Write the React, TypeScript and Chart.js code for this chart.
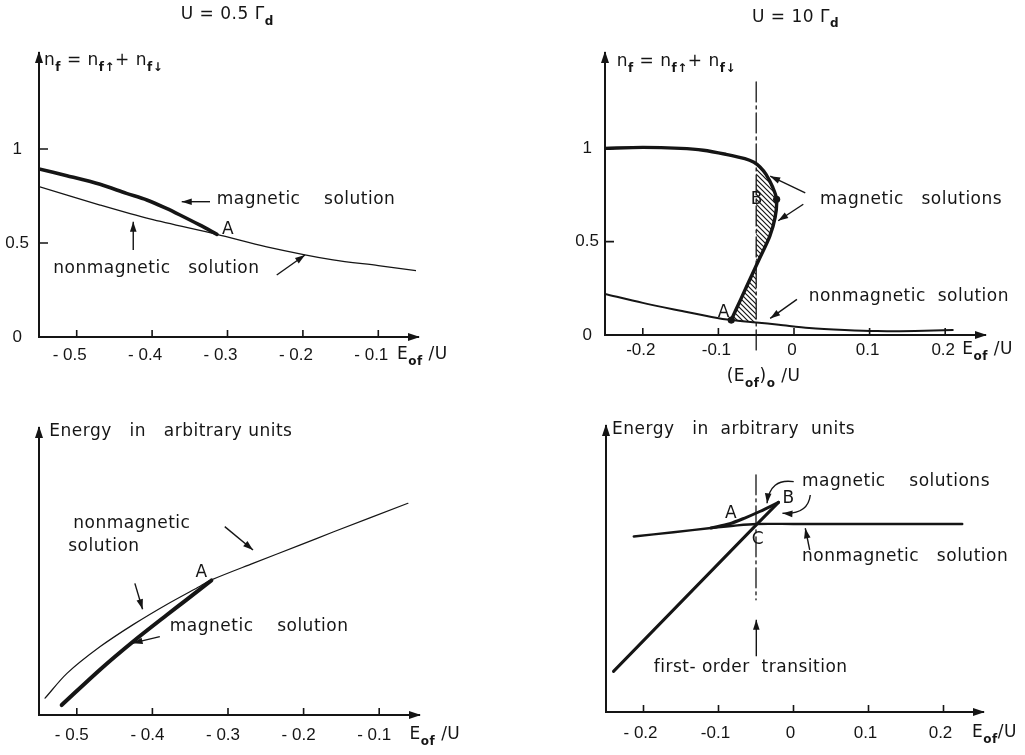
import { useEffect, useRef } from 'react';
import { Chart, registerables } from 'chart.js';

Chart.register(...registerables);

type Pt = [number, number];
type Seg = { t: string; sub?: boolean };
type Label = { at: Pt; segs: Seg[]; center?: boolean };
type Arrow = { from: Pt; to: Pt; via?: Pt };

const INK = '#151515';
const TEXT_FONT = '"DejaVu Sans", "Noto Sans", sans-serif';
const TICK_FONT = '"Liberation Sans", Arial, sans-serif';

// ---------- Panel 1 : U = 0.5 Γd, occupation ----------
const P1_X_TICKS = [-0.5, -0.4, -0.3, -0.2, -0.1];
const P1_X_LABELS = ['- 0.5', '- 0.4', '- 0.3', '- 0.2', '- 0.1'];
const P1_Y_TICKS = [0, 0.5, 1];
const P1_Y_LABELS = ['0', '0.5', '1'];
const P1_MAGNETIC: Pt[] = [
  [-0.55, 0.894], [-0.513, 0.858], [-0.469, 0.812], [-0.434, 0.764], [-0.407, 0.729],
  [-0.381, 0.684], [-0.363, 0.649], [-0.337, 0.596], [-0.314, 0.546],
];
const P1_NONMAG: Pt[] = [
  [-0.55, 0.8], [-0.469, 0.702], [-0.403, 0.628], [-0.314, 0.546], [-0.248, 0.48],
  [-0.16, 0.41], [-0.1, 0.38], [-0.05, 0.353],
];

// ---------- Panel 2 : U = 10 Γd, occupation ----------
const P2_X_TICKS = [-0.2, -0.1, 0, 0.1, 0.2];
const P2_X_LABELS = ['-0.2', '-0.1', '0', '0.1', '0.2'];
const P2_Y_TICKS = [0, 0.5, 1];
const P2_Y_LABELS = ['0', '0.5', '1'];
const P2_MAGNETIC: Pt[] = [
  [-0.25, 1.0], [-0.2, 1.005], [-0.15, 1.0], [-0.12, 0.99], [-0.09, 0.968], [-0.065, 0.945],
  [-0.053, 0.925], [-0.045, 0.9], [-0.037, 0.86], [-0.028, 0.79], [-0.023, 0.727],
  [-0.025, 0.63], [-0.032, 0.53], [-0.045, 0.415], [-0.0575, 0.305], [-0.07, 0.195], [-0.083, 0.08],
];
const P2_NONMAG: Pt[] = [
  [-0.25, 0.22], [-0.2, 0.172], [-0.15, 0.13], [-0.109, 0.097], [-0.083, 0.08], [-0.05, 0.067],
  [-0.02, 0.055], [0.02, 0.038], [0.067, 0.027], [0.11, 0.021], [0.16, 0.022], [0.21, 0.027],
];
const P2_HATCH_UPPER: Pt[] = [
  [-0.05, 0.915], [-0.045, 0.9], [-0.037, 0.86], [-0.028, 0.79], [-0.023, 0.727],
  [-0.025, 0.63], [-0.032, 0.53], [-0.045, 0.415], [-0.05, 0.372], [-0.05, 0.915],
];
const P2_HATCH_LOWER: Pt[] = [
  [-0.05, 0.372], [-0.0575, 0.305], [-0.07, 0.195], [-0.083, 0.08], [-0.05, 0.067], [-0.05, 0.372],
];
const P2_POINTS: Pt[] = [[-0.083, 0.08], [-0.023, 0.727]];
const P2_TRANSITION: Pt[] = [[-0.05, 1.356], [-0.05, -0.09]];

// ---------- Panel 3 : U = 0.5 Γd, energy ----------
const P3_X_TICKS = [-0.5, -0.4, -0.3, -0.2, -0.1];
const P3_X_LABELS = ['- 0.5', '- 0.4', '- 0.3', '- 0.2', '- 0.1'];
const P3_NONMAG: Pt[] = [
  [-0.542, 0.059], [-0.513, 0.146], [-0.469, 0.24], [-0.425, 0.318], [-0.381, 0.388],
  [-0.337, 0.452], [-0.322, 0.474], [-0.267, 0.532], [-0.205, 0.596], [-0.161, 0.642], [-0.062, 0.743],
];
const P3_MAGNETIC: Pt[] = [
  [-0.52, 0.035], [-0.469, 0.16], [-0.425, 0.259], [-0.381, 0.351], [-0.355, 0.404], [-0.322, 0.472],
];

// ---------- Panel 4 : U = 10 Γd, energy ----------
const P4_X_TICKS = [-0.2, -0.1, 0, 0.1, 0.2];
const P4_X_LABELS = ['- 0.2', '-0.1', '0', '0.1', '0.2'];
const P4_NONMAG: Pt[] = [
  [-0.213, 0.618], [-0.16, 0.633], [-0.11, 0.648], [-0.08, 0.656], [-0.05, 0.662], [0.0, 0.662], [0.225, 0.662],
];
const P4_MAG_LINE: Pt[] = [[-0.24, 0.143], [-0.05, 0.658], [-0.02, 0.738]];
const P4_MAG_CURVE: Pt[] = [[-0.11, 0.648], [-0.085, 0.663], [-0.065, 0.683], [-0.045, 0.706], [-0.02, 0.738]];
const P4_TRANSITION: Pt[] = [[-0.05, 0.835], [-0.05, 0.395]];

// ---------- annotation texts ----------
const EOF_U: Seg[] = [{ t: 'E' }, { t: 'of', sub: true }, { t: ' /U' }];
const NF_LABEL: Seg[] = [
  { t: 'n' }, { t: 'f', sub: true }, { t: ' = n' }, { t: 'f\u2191', sub: true }, { t: '+ n' }, { t: 'f\u2193', sub: true },
];

const P1_TEXTS: Label[] = [
  { at: [-0.362, 1.713], segs: [{ t: 'U = 0.5 \u0393' }, { t: 'd', sub: true }] },
  { at: [-0.5434, 1.468], segs: NF_LABEL },
  { at: [-0.3143, 0.729], segs: [{ t: 'magnetic    solution' }] },
  { at: [-0.2993, 0.574], segs: [{ t: 'A' }], center: true },
  { at: [-0.531, 0.365], segs: [{ t: 'nonmagnetic   solution' }] },
  { at: [-0.0752, -0.0957], segs: EOF_U },
];
const P1_ARROWS: Arrow[] = [
  { from: [-0.3232, 0.7197], to: [-0.3607, 0.7197] },
  { from: [-0.425, 0.463], to: [-0.425, 0.613] },
  { from: [-0.2347, 0.33], to: [-0.1972, 0.436] },
];

const P2_TEXTS: Label[] = [
  { at: [-0.0557, 1.702], segs: [{ t: 'U = 10 \u0393' }, { t: 'd', sub: true }] },
  { at: [-0.2345, 1.463], segs: NF_LABEL },
  { at: [0.0344, 0.723], segs: [{ t: 'magnetic   solutions' }] },
  { at: [-0.0491, 0.723], segs: [{ t: 'B' }], center: true },
  { at: [-0.0929, 0.122], segs: [{ t: 'A' }], center: true },
  { at: [0.0194, 0.204], segs: [{ t: 'nonmagnetic  solution' }] },
  { at: [0.2225, -0.08], segs: EOF_U },
  { at: [-0.089, -0.222], segs: [{ t: '(E' }, { t: 'of', sub: true }, { t: ')' }, { t: 'o', sub: true }, { t: ' /U' }] },
];
const P2_ARROWS: Arrow[] = [
  { from: [0.0149, 0.762], to: [-0.0315, 0.851] },
  { from: [0.0123, 0.7005], to: [-0.0209, 0.612] },
  { from: [0.0039, 0.191], to: [-0.0315, 0.089] },
];

const P3_TEXTS: Label[] = [
  { at: [-0.5364, 0.994], segs: [{ t: 'Energy   in   arbitrary units' }] },
  { at: [-0.5047, 0.673], segs: [{ t: 'nonmagnetic' }] },
  { at: [-0.5113, 0.59], segs: [{ t: 'solution' }] },
  { at: [-0.335, 0.5], segs: [{ t: 'A' }], center: true },
  { at: [-0.377, 0.31], segs: [{ t: 'magnetic    solution' }] },
  { at: [-0.0599, -0.07], segs: EOF_U },
];
const P3_ARROWS: Arrow[] = [
  { from: [-0.3043, 0.661], to: [-0.2669, 0.579] },
  { from: [-0.4232, 0.462], to: [-0.413, 0.371] },
  { from: [-0.3902, 0.275], to: [-0.4262, 0.252] },
];

const P4_TEXTS: Label[] = [
  { at: [-0.242, 0.995], segs: [{ t: 'Energy   in  arbitrary  units' }] },
  { at: [0.0113, 0.811], segs: [{ t: 'magnetic    solutions' }] },
  { at: [-0.0064, 0.75], segs: [{ t: 'B' }], center: true },
  { at: [-0.0833, 0.7], segs: [{ t: 'A' }], center: true },
  { at: [-0.0473, 0.606], segs: [{ t: 'C' }], center: true },
  { at: [0.0113, 0.547], segs: [{ t: 'nonmagnetic   solution' }] },
  { at: [-0.1864, 0.155], segs: [{ t: 'first- order  transition' }] },
  { at: [0.238, -0.073], segs: [{ t: 'E' }, { t: 'of', sub: true }, { t: '/U' }] },
];
const P4_ARROWS: Arrow[] = [
  { from: [0.0216, 0.571], to: [0.0157, 0.647] },
  { from: [0.0003, 0.811], via: [-0.0313, 0.824], to: [-0.0353, 0.735] },
  { from: [0.0224, 0.764], via: [0.0193, 0.694], to: [-0.0147, 0.7] },
  { from: [-0.0496, 0.196], to: [-0.0496, 0.325] },
];

// ---------- panel layout ----------
type Line = { data: Pt[]; width?: number; dash?: number[]; tension?: number; hatch?: boolean; dots?: boolean; noClip?: boolean };
type Panel = {
  box: { left: number; top: number; w: number; h: number };
  area: { L: number; R: number; T: number; B: number };
  xRange: Pt; yRange: Pt;
  xTicks: number[]; xLabels: string[]; xPad: number; xShift: number;
  yTicks?: number[]; yLabels?: string[]; yPad?: number;
  lines: Line[]; texts: Label[]; arrows: Arrow[];
};

const DASH_DOT = [20, 4, 3, 4];

const PANELS: Panel[] = [
  {
    box: { left: 0, top: 0, w: 512, h: 395 }, area: { L: 39, R: 416, T: 55, B: 337 },
    xRange: [-0.55, -0.05], yRange: [0, 1.5],
    xTicks: P1_X_TICKS, xLabels: P1_X_LABELS, xPad: 8, xShift: -7,
    yTicks: P1_Y_TICKS, yLabels: P1_Y_LABELS, yPad: 10,
    lines: [
      { data: P1_MAGNETIC, width: 3.6, tension: 0.3 },
      { data: P1_NONMAG, width: 1.3, tension: 0.3 },
    ],
    texts: P1_TEXTS, arrows: P1_ARROWS,
  },
  {
    box: { left: 512, top: 0, w: 513, h: 395 }, area: { L: 93, R: 471, T: 55, B: 335 },
    xRange: [-0.25, 0.25], yRange: [0, 1.5],
    xTicks: P2_X_TICKS, xLabels: P2_X_LABELS, xPad: 5, xShift: -2,
    yTicks: P2_Y_TICKS, yLabels: P2_Y_LABELS, yPad: 6,
    lines: [
      { data: P2_POINTS, dots: true },
      { data: P2_MAGNETIC, width: 3.4, tension: 0.3 },
      { data: P2_NONMAG, width: 2, tension: 0.3 },
      { data: P2_TRANSITION, width: 1.3, dash: DASH_DOT, noClip: true },
      { data: P2_HATCH_UPPER, hatch: true },
      { data: P2_HATCH_LOWER, hatch: true },
    ],
    texts: P2_TEXTS, arrows: P2_ARROWS,
  },
  {
    box: { left: 0, top: 395, w: 512, h: 360 }, area: { L: 39, R: 417, T: 35, B: 320 },
    xRange: [-0.55, -0.05], yRange: [0, 1],
    xTicks: P3_X_TICKS, xLabels: P3_X_LABELS, xPad: 10, xShift: -5,
    lines: [
      { data: P3_MAGNETIC, width: 4, tension: 0.3 },
      { data: P3_NONMAG, width: 1.2, tension: 0.3 },
    ],
    texts: P3_TEXTS, arrows: P3_ARROWS,
  },
  {
    box: { left: 512, top: 395, w: 513, h: 360 }, area: { L: 94, R: 469, T: 33, B: 317 },
    xRange: [-0.25, 0.25], yRange: [0, 1],
    xTicks: P4_X_TICKS, xLabels: P4_X_LABELS, xPad: 11, xShift: -3,
    lines: [
      { data: P4_MAG_LINE, width: 3, tension: 0 },
      { data: P4_MAG_CURVE, width: 3, tension: 0.3 },
      { data: P4_NONMAG, width: 2.4, tension: 0.3 },
      { data: P4_TRANSITION, width: 1.3, dash: DASH_DOT },
    ],
    texts: P4_TEXTS, arrows: P4_ARROWS,
  },
];

// ---------- drawing helpers ----------
function segFont(s: Seg) {
  return s.sub ? `bold 12px ${TEXT_FONT}` : `17px ${TEXT_FONT}`;
}

function drawRich(ctx: CanvasRenderingContext2D, segs: Seg[], x: number, y: number, center?: boolean) {
  (ctx as any).letterSpacing = '0.5px';
  let w = 0;
  for (const s of segs) { ctx.font = segFont(s); w += ctx.measureText(s.t).width; }
  let cx = center ? x - w / 2 : x;
  ctx.textAlign = 'left';
  ctx.textBaseline = 'middle';
  for (const s of segs) {
    ctx.font = segFont(s);
    ctx.fillText(s.t, cx, s.sub ? y + 7 : y);
    cx += ctx.measureText(s.t).width;
  }
  (ctx as any).letterSpacing = '0px';
}

function arrowHead(ctx: CanvasRenderingContext2D, tip: Pt, from: Pt, len = 10, half = 3.3) {
  const a = Math.atan2(tip[1] - from[1], tip[0] - from[0]);
  const c = Math.cos(a), s = Math.sin(a);
  ctx.beginPath();
  ctx.moveTo(tip[0], tip[1]);
  ctx.lineTo(tip[0] - len * c + half * s, tip[1] - len * s - half * c);
  ctx.lineTo(tip[0] - len * c - half * s, tip[1] - len * s + half * c);
  ctx.closePath();
  ctx.fill();
}

function makePlugin(p: Panel, id: number) {
  return {
    id: 'figureDecor' + id,
    afterDraw(chart: any) {
      const ctx: CanvasRenderingContext2D = chart.ctx;
      const xs = chart.scales.x;
      const ys = chart.scales.y;
      const a = chart.chartArea;
      const px = (pt: Pt): Pt => [xs.getPixelForValue(pt[0]), ys.getPixelForValue(pt[1])];
      ctx.save();
      ctx.strokeStyle = INK;
      ctx.fillStyle = INK;
      ctx.lineCap = 'butt';
      // inward tick marks
      ctx.lineWidth = 1.6;
      ctx.beginPath();
      for (const v of p.xTicks) {
        const x = xs.getPixelForValue(v);
        ctx.moveTo(x, a.bottom);
        ctx.lineTo(x, a.bottom - 7);
      }
      if (p.yTicks) {
        for (const v of p.yTicks) {
          const y = ys.getPixelForValue(v);
          ctx.moveTo(a.left, y);
          ctx.lineTo(a.left + 9, y);
        }
      }
      ctx.stroke();
      // axis arrow heads
      ctx.lineWidth = 2;
      ctx.beginPath();
      ctx.moveTo(a.left, a.top);
      ctx.lineTo(a.left, a.top - 3);
      ctx.moveTo(a.right, a.bottom);
      ctx.lineTo(a.right + 3, a.bottom);
      ctx.stroke();
      arrowHead(ctx, [a.left, a.top - 4], [a.left, a.top + 10], 12, 4);
      arrowHead(ctx, [a.right + 4, a.bottom], [a.right - 10, a.bottom], 12, 4);
      // annotation arrows
      ctx.lineWidth = 1.4;
      for (const ar of p.arrows) {
        const f = px(ar.from), t = px(ar.to);
        ctx.beginPath();
        ctx.moveTo(f[0], f[1]);
        if (ar.via) {
          const v = px(ar.via);
          ctx.quadraticCurveTo(v[0], v[1], t[0], t[1]);
          ctx.stroke();
          arrowHead(ctx, t, v);
        } else {
          ctx.lineTo(t[0], t[1]);
          ctx.stroke();
          arrowHead(ctx, t, f);
        }
      }
      // texts
      for (const l of p.texts) {
        const q = px(l.at);
        drawRich(ctx, l.segs, q[0], q[1], l.center);
      }
      ctx.restore();
    },
  };
}

function makeHatch(ctx: CanvasRenderingContext2D) {
  const c = document.createElement('canvas');
  c.width = 5; c.height = 5;
  const g = c.getContext('2d')!;
  g.strokeStyle = INK;
  g.lineWidth = 1.2;
  g.beginPath();
  g.moveTo(0, 0); g.lineTo(5, 5);
  g.moveTo(-1, 4); g.lineTo(1, 6);
  g.moveTo(4, -1); g.lineTo(6, 1);
  g.stroke();
  return ctx.createPattern(c, 'repeat');
}

function buildChart(canvas: HTMLCanvasElement, p: Panel, idx: number) {
  const ctx = canvas.getContext('2d')!;
  const hatch = makeHatch(ctx);
  const datasets = p.lines.map((ln) => {
    const data = ln.data.map(([x, y]) => ({ x, y }));
    if (ln.dots) {
      return { data, showLine: false, pointRadius: 3.6, pointBackgroundColor: INK, pointBorderWidth: 0, pointBorderColor: INK };
    }
    if (ln.hatch) {
      return {
        data, showLine: true, borderColor: 'rgba(0,0,0,0)', borderWidth: 1, pointRadius: 0,
        tension: 0, fill: 'shape', backgroundColor: hatch,
      };
    }
    const ds: any = {
      data, showLine: true, borderColor: INK, borderWidth: ln.width ?? 1.5, pointRadius: 0,
      tension: ln.tension ?? 0, fill: false, borderCapStyle: 'round', borderJoinStyle: 'round',
      borderDash: ln.dash ?? [],
    };
    if (ln.noClip) ds.clip = false;
    return ds;
  });
  const { L, R, T, B } = p.area;
  const XH = 40;
  return new Chart(canvas, {
    type: 'scatter',
    data: { datasets },
    plugins: [makePlugin(p, idx)],
    options: {
      responsive: false,
      maintainAspectRatio: false,
      devicePixelRatio: 1,
      animation: false,
      events: [],
      layout: { padding: { left: 0, top: T, right: p.box.w - R, bottom: p.box.h - B - XH } },
      plugins: { legend: { display: false }, tooltip: { enabled: false }, title: { display: false } },
      scales: {
        x: {
          type: 'linear', position: 'bottom', min: p.xRange[0], max: p.xRange[1],
          afterBuildTicks: (s: any) => { s.ticks = p.xTicks.map((v) => ({ value: v })); },
          afterFit: (s: any) => { s.height = XH; },
          ticks: {
            callback: (_v: any, i: number) => p.xLabels[i],
            font: { family: TICK_FONT, size: 17 }, color: INK, padding: p.xPad,
            labelOffset: p.xShift,
            autoSkip: false, maxRotation: 0, minRotation: 0,
          },
          grid: { display: false, drawTicks: false },
          border: { display: true, color: INK, width: 2 },
        },
        y: {
          type: 'linear', position: 'left', min: p.yRange[0], max: p.yRange[1],
          afterBuildTicks: (s: any) => { s.ticks = (p.yTicks ?? [0, 1]).map((v) => ({ value: v })); },
          afterFit: (s: any) => { s.width = L; },
          ticks: {
            display: !!p.yTicks,
            callback: (_v: any, i: number) => (p.yLabels ? p.yLabels[i] : ''),
            font: { family: TICK_FONT, size: 17 }, color: INK, padding: p.yPad ?? 8,
            crossAlign: 'center', autoSkip: false,
          },
          grid: { display: false, drawTicks: false },
          border: { display: true, color: INK, width: 2 },
        },
      },
    } as any,
  });
}

export default function App() {
  const refs = useRef<(HTMLCanvasElement | null)[]>([]);
  useEffect(() => {
    const charts = PANELS.map((p, i) => buildChart(refs.current[i]!, p, i));
    return () => charts.forEach((c) => c.destroy());
  }, []);
  return (
    <div style={{ position: 'absolute', left: 0, top: 0, width: 1025, height: 755, background: '#fff', overflow: 'hidden' }}>
      {PANELS.map((p, i) => (
        <canvas
          key={i}
          ref={(el) => { refs.current[i] = el; }}
          width={p.box.w}
          height={p.box.h}
          style={{ position: 'absolute', left: p.box.left, top: p.box.top, width: p.box.w, height: p.box.h }}
        />
      ))}
    </div>
  );
}
